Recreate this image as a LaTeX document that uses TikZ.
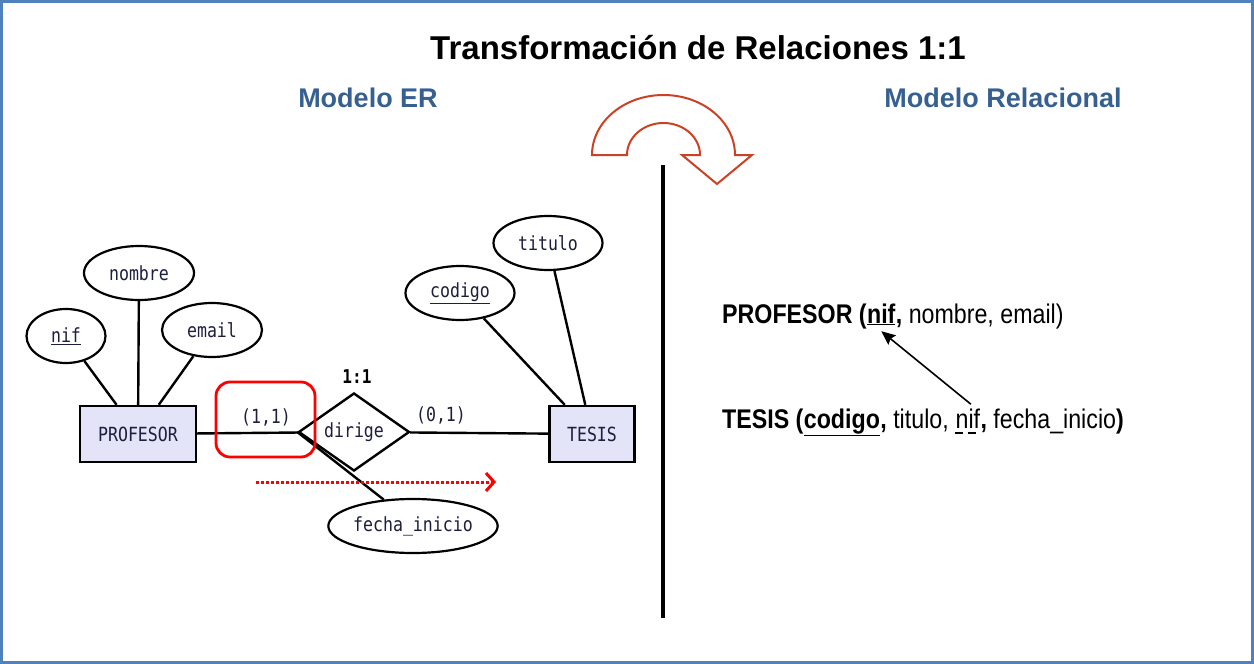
\documentclass[tikz,border=0pt]{standalone}
\usepackage{fontspec}
\setmainfont{Liberation Sans}
\newfontfamily\ermono[FakeStretch=0.85]{DejaVu Sans Mono}
\newfontfamily\relfont[FakeStretch=0.86]{Liberation Sans}
\usepackage{xcolor}
\usetikzlibrary{arrows.meta, positioning, shapes.geometric}
\definecolor{marco}{RGB}{79,129,189}
\definecolor{azulmodelo}{RGB}{54,96,146}
\definecolor{lavanda}{RGB}{228,228,248}
\definecolor{tinta}{RGB}{30,30,62}
\definecolor{naranja}{RGB}{204,65,37}
\newcommand{\erfont}{\ermono\fontsize{19.5}{22}\selectfont}

\begin{document}
\begin{tikzpicture}[x=1pt, y=-1pt,
    entidad/.style={draw, line width=2.4pt, fill=lavanda, minimum width=#1, minimum height=56pt, inner sep=0pt, text=tinta, font=\erfont},
    atributo/.style={draw, ellipse, line width=2.2pt, fill=white, minimum width=#1, minimum height=54pt, inner sep=0pt, text=tinta, font=\erfont},
    relacion/.style={draw, diamond, aspect=1.4, line width=2.4pt, fill=white, minimum width=111pt, minimum height=78pt, inner sep=0pt, text=tinta, font=\erfont},
    enlace/.style={line width=2.4pt},
    cardinal/.style={text=tinta, font=\erfont},
    modelo/.style={text=azulmodelo, font=\bfseries\fontsize{27}{32}\selectfont},
    reltxt/.style={anchor=base west, inner sep=0pt, font=\relfont\fontsize{27}{32}\selectfont},
    flujo/.style={red, line width=3pt, dash pattern=on 2.5pt off 2.5pt, -{Straight Barb[length=8pt, width=18pt, line width=3pt]}}
  ]
  \useasboundingbox (0,0) rectangle (1254,664);
  \draw[marco, line width=2.5pt] (1.5,1.5) rectangle (1252.5,662.5);

  % Titoli
  \node[font=\bfseries\fontsize{33}{40}\selectfont] (titulo-diap) at (698,48) {Transformación de Relaciones 1:1};
  \node[modelo] (modelo-er) at (368,98) {Modelo ER};
  \node[modelo] (modelo-rel) at (1003,98) {Modelo Relacional};

  % Separatore e freccia curva
  \draw[line width=4pt] (663,165) -- (663,618);
  \draw[naranja, line width=2pt, fill=white] (592,155) arc[start angle=180, end angle=360, x radius=71.5, y radius=60]
    -- (752,155) -- (717,184) -- (682,155) -- (700,155)
    arc[start angle=0, end angle=-180, x radius=36.5, y radius=32] -- cycle;

  % Modello ER
  \node[entidad=116pt] (profesor) at (138,434) {PROFESOR};
  \node[entidad=85pt] (tesis) at (592,434) {TESIS};
  \node[relacion] (dirige) at (354,432) {dirige};
  \node[atributo=79pt] (nif) at (66,336) {\underline{nif}};
  \node[atributo=110pt] (nombre) at (139,273) {nombre};
  \node[atributo=100pt] (email) at (212,330) {email};
  \node[atributo=109pt] (codigo) at (460,293) {\underline{codigo}};
  \node[atributo=109pt] (titulo) at (548,243) {titulo};
  \node[atributo=168pt] (fecha) at (413,526) {fecha\_inicio};

  \draw[enlace] (nif) -- (profesor);
  \draw[enlace] (nombre) -- (profesor);
  \draw[enlace] (email) -- (profesor);
  \draw[enlace] (codigo) -- (tesis);
  \draw[enlace] (titulo) -- (tesis);
  \draw[enlace] (profesor) -- (dirige);
  \draw[enlace] (dirige) -- (tesis);
  \draw[enlace] (dirige.west) -- (fecha.138);

  \node[cardinal] (card-prof) at (266,417) {(1,1)};
  \node[cardinal] (card-tesis) at (441,415) {(0,1)};
  \node[font=\ermono\bfseries\fontsize{19}{22}\selectfont] (tipo) at (357,377) {1:1};

  % Evidenziazione in rosso
  \draw[red, line width=2.8pt, rounded corners=14pt] (216,382) rectangle (315,457);
  \coordinate (flujo-ini) at (256,482);
  \coordinate (flujo-fin) at (496,482);
  \draw[flujo] (flujo-ini) -- (flujo-fin);

  % Modello relazionale
  \node[reltxt] (rp-ent) at (722,323) {\bfseries PROFESOR (};
  \node[reltxt] (rp-nif) at (rp-ent.base east) {\bfseries\underline{nif}};
  \node[reltxt] (rp-resto) at (rp-nif.base east) {\textbf{,} nombre, email)};

  \node[reltxt] (rt-ent) at (722,428) {\bfseries TESIS (};
  \node[reltxt] (rt-cod) at (rt-ent.base east) {\bfseries\underline{codigo}};
  \node[reltxt] (rt-medio) at (rt-cod.base east) {\textbf{,} titulo,\kern\fontdimen2\font};
  \node[reltxt] (rt-nif) at (rt-medio.base east) {nif};
  \node[reltxt] (rt-fin) at (rt-nif.base east) {\textbf{,} fecha\_inicio\textbf{)}};
  \draw[line width=1.8pt, dash pattern=on 8pt off 5pt] ([yshift=-5pt]rt-nif.base west) -- ([yshift=-5pt]rt-nif.base east);

  \draw[-{Stealth[length=14pt, width=12pt, inset=2pt]}, line width=1.6pt] ([xshift=3pt, yshift=4pt]rt-nif.north) -- ([yshift=-6pt]rp-nif.south);
\end{tikzpicture}
\end{document}
